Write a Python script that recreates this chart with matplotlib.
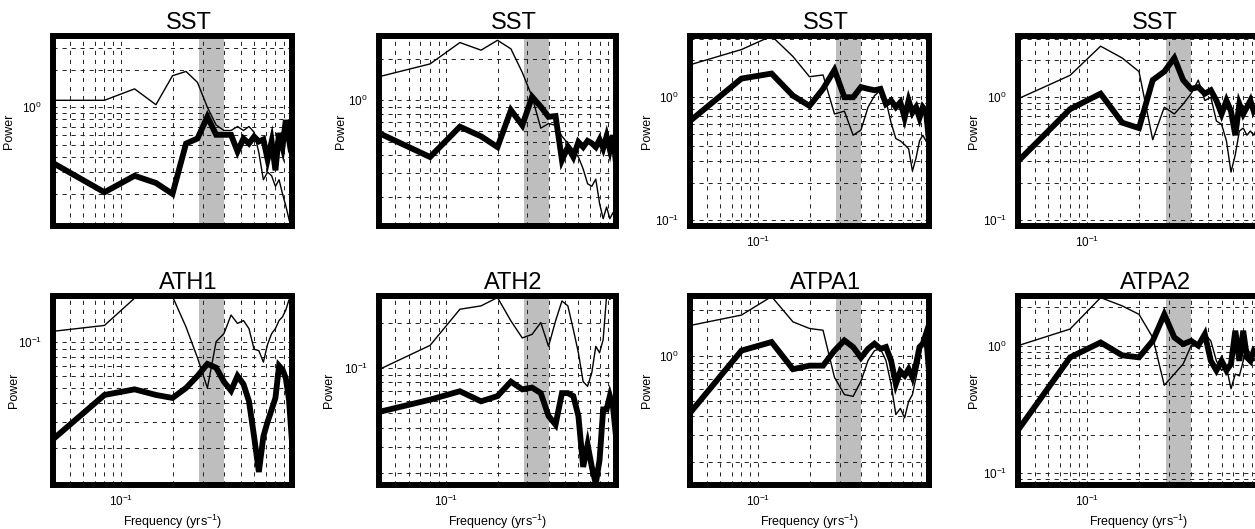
import numpy as np
import matplotlib
matplotlib.use('Agg')
import matplotlib.pyplot as plt
from matplotlib.ticker import LogLocator, NullFormatter

plt.rcParams['font.family'] = ['Liberation Sans', 'DejaVu Sans']
plt.rcParams['mathtext.fontset'] = 'custom'
plt.rcParams['mathtext.rm'] = 'Liberation Sans'
plt.rcParams['mathtext.it'] = 'Liberation Sans'
plt.rcParams['lines.scale_dashes'] = False

# harmonic frequencies k/25 (yrs^-1)
freq = [k / 25.0 for k in range(1, 26)]
band = (1 / 3.5, 1 / 2.5)

titles = ['SST', 'SST', 'SST', 'SST', 'ATH1', 'ATH2', 'ATPA1', 'ATPA2']

# thin line (first spectrum) per panel
thin_sst1 = [1.14, 1.14, 1.41, 1.05, 1.80, 1.95, 1.59, 1.00, 0.72, 0.65, 0.65, 0.70, 0.65,
             0.70, 0.63, 0.43, 0.26, 0.30, 0.28, 0.23, 0.26, 0.20, 0.16, 0.125, 0.10]
thin_sst2 = [1.48, 1.83, 2.61, 2.30, 2.71, 2.35, 1.59, 1.06, 0.63, 0.68, 0.66, 0.55, 0.49,
             0.44, 0.39, 0.32, 0.25, 0.24, 0.27, 0.18, 0.14, 0.17, 0.14, 0.155, 0.13]
thin_sst3 = [1.84, 2.45, 3.16, 2.15, 1.47, 1.52, 0.73, 0.77, 0.49, 0.54, 0.83, 1.03, 1.14,
             0.94, 0.62, 0.46, 0.44, 0.41, 0.38, 0.25, 0.32, 0.44, 0.49, 0.44, 0.41]
thin_sst4 = [0.97, 1.51, 2.61, 2.09, 1.62, 0.45, 0.83, 0.73, 0.88, 1.07, 1.38, 0.94, 1.00,
             0.64, 0.60, 0.44, 0.245, 0.34, 0.53, 0.56, 0.49, 0.53, 0.49, 0.56, 0.53]
thin_ath1 = [0.118, 0.129, 0.195, 0.20, 0.20, 0.126, 0.079, 0.050, 0.101, 0.114, 0.151, 0.133, 0.139,
             0.123, 0.090, 0.088, 0.074, 0.097, 0.114, 0.123, 0.139, 0.147, 0.163, 0.19, 0.163]
thin_ath2 = [0.0975, 0.141, 0.245, 0.258, 0.293, 0.205, 0.158, 0.167, 0.20, 0.139, 0.205, 0.278, 0.258,
             0.18, 0.126, 0.081, 0.0755, 0.093, 0.139, 0.126, 0.154, 0.30, 0.285, 0.30, 0.30]
thin_atpa1 = [1.58, 1.85, 2.45, 1.67, 1.51, 1.47, 0.72, 0.555, 0.54, 0.68, 0.93, 1.08, 1.11,
              0.93, 0.65, 0.41, 0.45, 0.39, 0.50, 0.555, 0.72, 0.93, 1.26, 1.43, 1.33]
thin_atpa2 = [1.00, 1.35, 2.38, 2.05, 1.76, 1.16, 0.49, 0.60, 0.72, 1.00, 1.06, 1.23, 1.09,
              0.76, 0.64, 0.68, 0.46, 0.60, 0.58, 0.76, 0.97, 0.86, 0.76, 0.81, 0.86]

# thick line (second spectrum) per panel
thick_sst1 = [0.355, 0.206, 0.28, 0.245, 0.20, 0.51, 0.56, 0.84, 0.60, 0.60, 0.60, 0.44, 0.56,
              0.51, 0.58, 0.53, 0.55, 0.38, 0.53, 0.31, 0.62, 0.48, 0.79, 0.55, 0.69]
thick_sst2 = [0.58, 0.39, 0.645, 0.55, 0.46, 0.85, 0.66, 1.06, 0.90, 0.76, 0.77, 0.37, 0.46,
              0.39, 0.50, 0.46, 0.51, 0.49, 0.46, 0.52, 0.45, 0.55, 0.44, 0.56, 0.35]
thick_sst3 = [0.64, 1.42, 1.56, 1.03, 0.85, 1.17, 1.67, 1.00, 1.00, 1.21, 1.17, 1.14, 1.17,
              0.88, 0.94, 0.83, 0.91, 0.68, 0.94, 0.75, 0.83, 0.68, 0.83, 0.77, 0.44]
thick_sst4 = [0.30, 0.80, 1.07, 0.62, 0.56, 1.38, 1.62, 2.09, 1.38, 1.17, 1.21, 1.07, 1.14,
              0.94, 0.73, 0.94, 0.77, 0.49, 0.88, 0.73, 0.83, 0.94, 0.77, 0.83, 0.77]
thick_ath1 = [0.023, 0.045, 0.049, 0.045, 0.043, 0.050, 0.060, 0.072, 0.068, 0.055, 0.048, 0.060, 0.053,
              0.041, 0.024, 0.014, 0.024, 0.030, 0.036, 0.043, 0.070, 0.066, 0.058, 0.042, 0.022]
thick_ath2 = [0.051, 0.0615, 0.070, 0.060, 0.065, 0.081, 0.072, 0.074, 0.068, 0.048, 0.042, 0.068, 0.068,
              0.065, 0.048, 0.022, 0.031, 0.022, 0.017, 0.0245, 0.053, 0.053, 0.065, 0.055, 0.035]
thick_atpa1 = [0.42, 1.08, 1.23, 0.815, 0.86, 0.86, 1.08, 1.26, 1.14, 0.97, 1.11, 1.20, 1.11,
               1.14, 0.93, 0.65, 0.79, 0.74, 0.815, 0.72, 0.88, 1.14, 1.20, 1.39, 0.79]
thick_atpa2 = [0.218, 0.81, 1.06, 0.84, 0.81, 1.09, 1.76, 1.16, 1.03, 1.09, 1.00, 1.23, 0.76,
               0.64, 0.76, 0.64, 0.72, 1.31, 0.76, 1.31, 0.81, 0.76, 0.91, 0.86, 0.64]

thin = [thin_sst1, thin_sst2, thin_sst3, thin_sst4, thin_ath1, thin_ath2, thin_atpa1, thin_atpa2]
thick = [thick_sst1, thick_sst2, thick_sst3, thick_sst4, thick_ath1, thick_ath2, thick_atpa1, thick_atpa2]

ylims = [(0.11, 3.77), (0.124, 2.91), (0.089, 3.16), (0.089, 3.16),
         (0.0115, 0.2015), (0.0167, 0.30), (0.141, 2.47), (0.081, 2.45)]

W, H = 1255.0, 529.0
col_px = [(53, 292), (379, 616), (690, 929), (1018, 1260)]
row_px = [(36, 226), (296, 485)]
# x of the 'Power' label, in figure pixels
ylab_px = [15, 347, 653, 980, 20, 335, 653, 980]

fig = plt.figure(figsize=(W / 100, H / 100), dpi=100)

for i in range(8):
    r, c = divmod(i, 4)
    x0, x1 = col_px[c]
    y0, y1 = row_px[r]
    ax = fig.add_axes([x0 / W, (H - y1) / H, (x1 - x0) / W, (y1 - y0) / H])
    ax.set_xscale('log')
    ax.set_yscale('log')
    ax.axvspan(band[0], band[1], color='#bebebe', lw=0, zorder=0.2)
    ax.plot(freq, thin[i], color='black', lw=1.0, zorder=3)
    ax.plot(freq, thick[i], color='black', lw=4.2, solid_joinstyle='miter', zorder=4)
    ax.set_xlim(0.04, 1.0)
    ax.set_ylim(*ylims[i])
    ax.set_xticks([0.1])
    ax.xaxis.set_minor_locator(LogLocator(base=10, subs=np.arange(2, 10)))
    ax.yaxis.set_minor_locator(LogLocator(base=10, subs=np.arange(2, 10)))
    ax.xaxis.set_minor_formatter(NullFormatter())
    ax.yaxis.set_minor_formatter(NullFormatter())
    ax.set_axisbelow(True)
    ax.grid(True, which='both', color='#222222', lw=0.7, linestyle=(0, (3, 3.5)))
    ax.tick_params(which='both', length=0, labelsize=8.5)
    ax.tick_params(axis='y', pad=8)
    ax.tick_params(axis='x', pad=6)
    for s in ax.spines.values():
        s.set_linewidth(4.3)
        s.set_zorder(6)
    ax.set_title(titles[i], fontsize=17, x=0.567, pad=5)
    ax.set_ylabel('Power', fontsize=9)
    ax.yaxis.set_label_coords((ylab_px[i] - x0) / (x1 - x0), 0.5)
    if r == 1:
        ax.set_xlabel('Frequency (yrs$^{-1}$)', fontsize=9, labelpad=3)
    if i in (0, 1):
        ax.tick_params(axis='x', labelbottom=False)

fig.savefig('out.png', dpi=100)
plt.close()
